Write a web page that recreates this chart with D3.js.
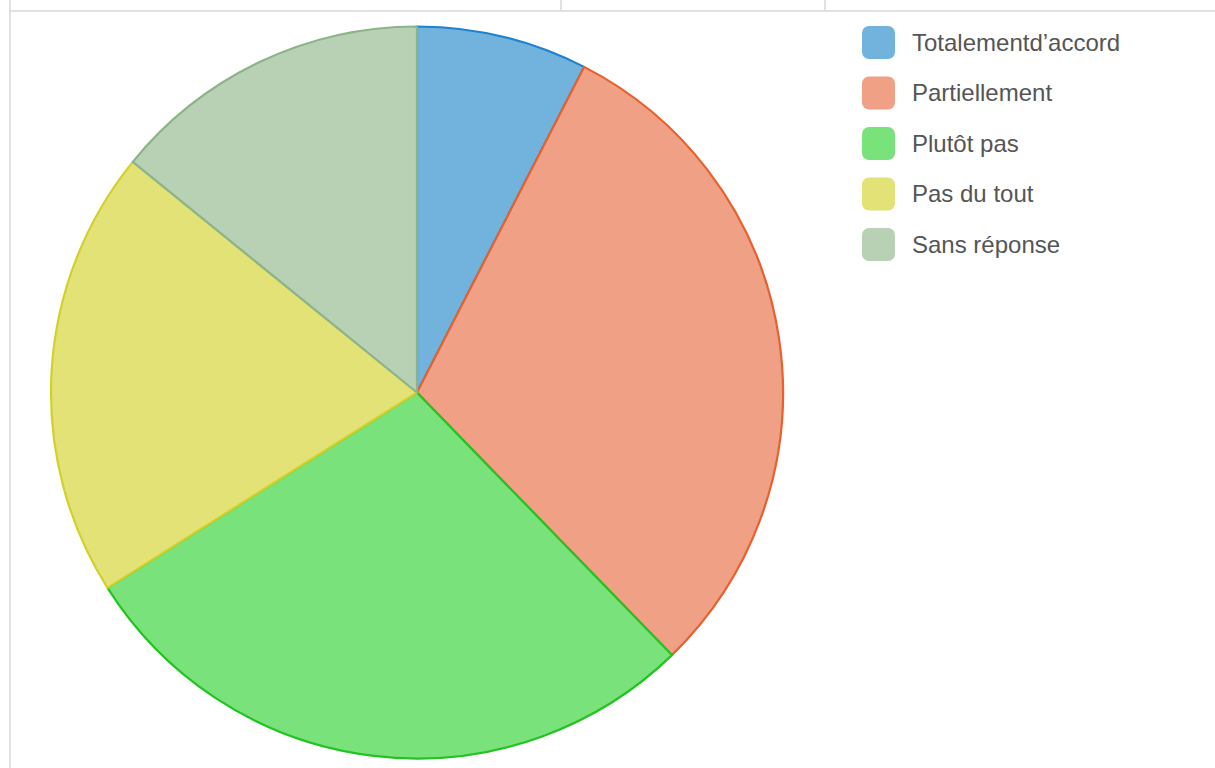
<!DOCTYPE html>
<html>
<head>
<meta charset="utf-8">
<script src="https://cdn.jsdelivr.net/npm/d3@7"></script>
<style>
  html, body { margin: 0; padding: 0; background: #fff; }
  svg { display: block; }
</style>
</head>
<body>
<svg id="chart" width="1215" height="768"></svg>
<script>
// Responses to the survey question
const categories = ["Totalementd\u2019accord", "Partiellement", "Plutôt pas", "Pas du tout", "Sans réponse"];
const counts = [8, 32, 30, 21, 15];
const fills = ["#72b3de", "#f0a085", "#7ae27a", "#e3e276", "#b8d1b4"];
const strokes = ["#1f82cf", "#e8602e", "#22c322", "#d2d02a", "#8db38a"];

const svg = d3.select("#chart");

// light frame lines of the surrounding panel
const frame = svg.append("g").attr("stroke", "#e1e1e1").attr("stroke-width", 2).attr("fill", "none");
frame.append("line").attr("x1", 10).attr("x2", 1215).attr("y1", 11).attr("y2", 11);
frame.append("line").attr("x1", 10).attr("x2", 10).attr("y1", 0).attr("y2", 768);
frame.append("line").attr("x1", 561).attr("x2", 561).attr("y1", 0).attr("y2", 11);
frame.append("line").attr("x1", 825).attr("x2", 825).attr("y1", 0).attr("y2", 11);

// pie
const cx = 417, cy = 392.5, radius = 366;
const pie = d3.pie().sort(null).value(d => d.value);
const arc = d3.arc().innerRadius(0).outerRadius(radius);
const data = categories.map((c, i) => ({ label: c, value: counts[i], i }));

svg.append("g")
  .attr("transform", `translate(${cx},${cy})`)
  .selectAll("path")
  .data(pie(data))
  .join("path")
  .attr("d", arc)
  .attr("fill", d => fills[d.data.i])
  .attr("stroke", d => strokes[d.data.i])
  .attr("stroke-width", 2.2)
  .attr("stroke-linejoin", "round");

// legend
const legend = svg.append("g").attr("transform", "translate(862,26)");
const item = legend.selectAll("g")
  .data(categories)
  .join("g")
  .attr("transform", (d, i) => `translate(0,${i * 50.5})`);
item.append("rect")
  .attr("width", 33).attr("height", 33)
  .attr("rx", 7).attr("ry", 7)
  .attr("fill", (d, i) => fills[i]);
item.append("text")
  .attr("x", 50).attr("y", 16.5)
  .attr("dy", "0.35em")
  .attr("font-family", "'Liberation Sans', Arial, sans-serif")
  .attr("font-size", 24)
  .attr("fill", "#555")
  .text(d => d);
</script>
</body>
</html>
